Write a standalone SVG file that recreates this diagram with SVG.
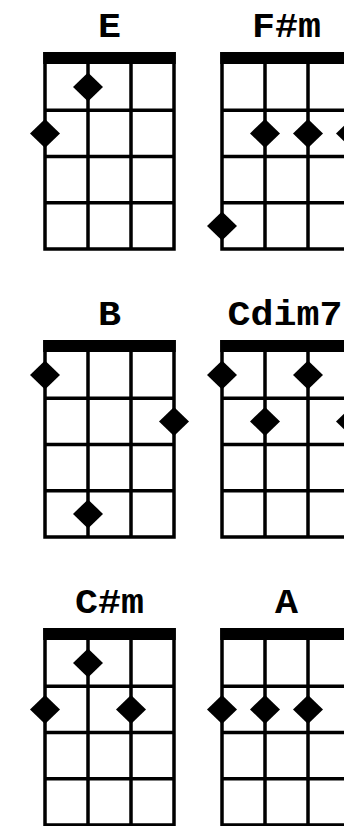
<svg xmlns="http://www.w3.org/2000/svg" xmlns:xlink="http://www.w3.org/1999/xlink" width="344" height="826" viewBox="0 0 344 826">
<style>
.lbl{font-family:"Courier New","Liberation Mono",monospace;font-weight:bold;font-size:35px;text-anchor:middle;fill:#000}
.ln{stroke:#000;stroke-width:3.5;fill:none}
.dot{fill:#000}
</style>
<defs>
<g id="grid">
<rect x="-1.75" y="0" width="132.5" height="12" fill="#000"/>
<path class="ln" d="M0 0V198.75M43 0V198.75M86 0V198.75M129 0V198.75M-1.75 58.25H130.75M-1.75 104.5H130.75M-1.75 150.75H130.75M-1.75 197H130.75"/>
</g>
<path id="dot" d="M0 -14.5L15 0L0 14.5L-15 0Z"/>
</defs>
<rect width="344" height="826" fill="#fff"/>
<g id="chord-E" transform="translate(45,52)">
<text class="lbl" x="64.5" y="-15" textLength="23" lengthAdjust="spacingAndGlyphs">E</text>
<use xlink:href="#grid"/>
<use xlink:href="#dot" class="dot" x="43" y="35"/>
<use xlink:href="#dot" class="dot" x="0" y="81.4"/>
</g>
<g id="chord-Fsm" transform="translate(222,52)">
<text class="lbl" x="64.5" y="-15" textLength="69" lengthAdjust="spacingAndGlyphs">F#m</text>
<use xlink:href="#grid"/>
<use xlink:href="#dot" class="dot" x="43" y="81.4"/>
<use xlink:href="#dot" class="dot" x="86" y="81.4"/>
<use xlink:href="#dot" class="dot" x="129" y="81.4"/>
<use xlink:href="#dot" class="dot" x="0" y="173.9"/>
</g>
<g id="chord-B" transform="translate(45,340)">
<text class="lbl" x="64.5" y="-15" textLength="23" lengthAdjust="spacingAndGlyphs">B</text>
<use xlink:href="#grid"/>
<use xlink:href="#dot" class="dot" x="0" y="35"/>
<use xlink:href="#dot" class="dot" x="129" y="81.4"/>
<use xlink:href="#dot" class="dot" x="43" y="173.9"/>
</g>
<g id="chord-Cdim7" transform="translate(222,340)">
<text class="lbl" x="63" y="-15" textLength="115" lengthAdjust="spacingAndGlyphs">Cdim7</text>
<use xlink:href="#grid"/>
<use xlink:href="#dot" class="dot" x="0" y="35"/>
<use xlink:href="#dot" class="dot" x="86" y="35"/>
<use xlink:href="#dot" class="dot" x="43" y="81.4"/>
<use xlink:href="#dot" class="dot" x="129" y="81.4"/>
</g>
<g id="chord-Csm" transform="translate(45,628)">
<text class="lbl" x="64.5" y="-15" textLength="69" lengthAdjust="spacingAndGlyphs">C#m</text>
<use xlink:href="#grid"/>
<use xlink:href="#dot" class="dot" x="43" y="35"/>
<use xlink:href="#dot" class="dot" x="0" y="81.4"/>
<use xlink:href="#dot" class="dot" x="86" y="81.4"/>
</g>
<g id="chord-A" transform="translate(222,628)">
<text class="lbl" x="64.5" y="-15" textLength="23" lengthAdjust="spacingAndGlyphs">A</text>
<use xlink:href="#grid"/>
<use xlink:href="#dot" class="dot" x="0" y="81.4"/>
<use xlink:href="#dot" class="dot" x="43" y="81.4"/>
<use xlink:href="#dot" class="dot" x="86" y="81.4"/>
</g>
</svg>
